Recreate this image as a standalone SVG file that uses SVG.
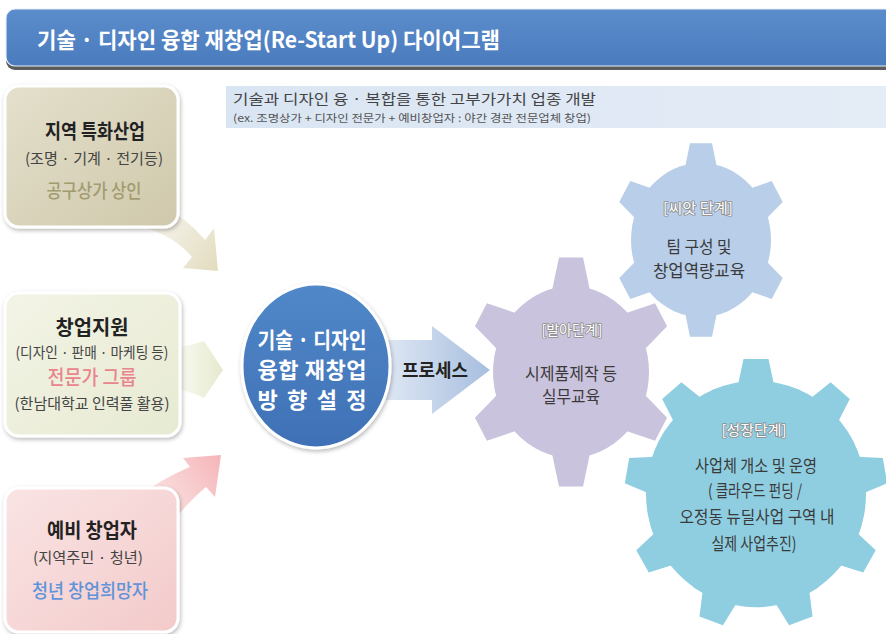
<svg xmlns="http://www.w3.org/2000/svg" xmlns:xlink="http://www.w3.org/1999/xlink" width="886" height="634" viewBox="0 0 886 634">
<style>
text{font-family:"Noto Sans CJK KR","Noto Sans",sans-serif;}
.c{text-anchor:middle;}
.hd{font-size:20px;font-weight:bold;fill:#222;}
.sub{font-size:15px;fill:#444;}
.gl{font-size:14px;fill:#fff;stroke:#8c8c8c;stroke-width:1.6px;paint-order:stroke;stroke-linejoin:round;}
.gt{font-size:17px;fill:#3a3a3a;}
.wt{font-size:22px;font-weight:bold;fill:#fff;}
</style>
<defs>
<linearGradient id="gTitle" x1="0" y1="0" x2="0" y2="1"><stop offset="0" stop-color="#5b8dcc"/><stop offset="1" stop-color="#4a7bbd"/></linearGradient>
<linearGradient id="gBan" x1="0" y1="0" x2="1" y2="0"><stop offset="0" stop-color="#dae5f3"/><stop offset="1" stop-color="#e4ecf6"/></linearGradient>
<linearGradient id="gB1" x1="0" y1="0" x2="1" y2="1"><stop offset="0" stop-color="#e4e0cc"/><stop offset="1" stop-color="#cfc8ab"/></linearGradient>
<linearGradient id="gB2" x1="0" y1="0" x2="1" y2="1"><stop offset="0" stop-color="#f3f4e6"/><stop offset="1" stop-color="#e7ead2"/></linearGradient>
<linearGradient id="gB3" x1="0" y1="0" x2="1" y2="1"><stop offset="0" stop-color="#fae4e4"/><stop offset="1" stop-color="#f3caca"/></linearGradient>
<linearGradient id="gA1" gradientUnits="userSpaceOnUse" x1="150" y1="220" x2="215" y2="268"><stop offset="0" stop-color="#f7f5ee"/><stop offset="1" stop-color="#e3ddc0"/></linearGradient>
<linearGradient id="gA2" gradientUnits="userSpaceOnUse" x1="180" y1="0" x2="222" y2="0"><stop offset="0" stop-color="#f8f9f0"/><stop offset="1" stop-color="#e7eacf"/></linearGradient>
<linearGradient id="gA3" gradientUnits="userSpaceOnUse" x1="150" y1="505" x2="220" y2="457"><stop offset="0" stop-color="#fbe6e6"/><stop offset="1" stop-color="#f5b6b9"/></linearGradient>
<linearGradient id="gP" gradientUnits="userSpaceOnUse" x1="384" y1="0" x2="490" y2="0"><stop offset="0" stop-color="#dfe8f4"/><stop offset="1" stop-color="#a7bedf"/></linearGradient>
<linearGradient id="gC" x1="0" y1="0" x2="0" y2="1"><stop offset="0" stop-color="#5088c9"/><stop offset="1" stop-color="#3f70b5"/></linearGradient>
<filter id="sh" x="-15%" y="-15%" width="135%" height="135%"><feDropShadow dx="1" dy="2" stdDeviation="2.2" flood-color="#000" flood-opacity="0.28"/></filter>
<polygon id="tS" points="-16,-66 16,-66 11,-88 -11,-88"/>
<polygon id="tP" points="-19,-74 19,-74 12,-104 -12,-104"/>
<polygon id="tG" points="-18,-106 18,-106 12.5,-131 -12.5,-131"/>
</defs>
<rect width="886" height="634" fill="#fff"/>

<g id="title">
<rect x="6" y="13" width="900" height="57" rx="9" fill="#5c5c5c"/>
<rect x="6" y="9" width="900" height="57" rx="9" fill="url(#gTitle)" stroke="#e8eef6" stroke-width="1.2"/>
<text x="37" y="48" class="wt" font-size="22" textLength="463" lengthAdjust="spacingAndGlyphs">기술 · 디자인 융합 재창업(Re-Start Up) 다이어그램</text>
</g>

<g id="banner">
<rect x="226" y="86" width="662" height="42" fill="url(#gBan)"/>
<text x="233" y="104" font-size="14" fill="#444" textLength="363" lengthAdjust="spacingAndGlyphs">기술과 디자인 융 · 복합을 통한 고부가가치 업종 개발</text>
<text x="233" y="122" font-size="10.5" fill="#555" textLength="358" lengthAdjust="spacingAndGlyphs">(ex. 조명상가 + 디자인  전문가 + 예비창업자 : 야간 경관 전문업체 창업)</text>
</g>

<g id="connectors">
<path d="M138,226 C165,232 182,245 192,257 L183,268 L218,271 L214,228 L205,240 C195,228 185,220 176,214 Z" fill="url(#gA1)"/>
<path d="M178,348 C190,345 198,343 204,341 L223,370 L204,398 C196,394 188,391 178,390 Z" fill="url(#gA2)"/>
<path d="M140,496 C160,480 178,472 190,467 L183,458 L221,455 L215,497 L206,487 C194,497 182,510 172,522 Z" fill="url(#gA3)"/>
<g id="process-arrow">
<path d="M384,340 L432,340 L432,326 L490,370 L432,414 L432,400 L384,400 Z" fill="url(#gP)"/>
<text x="435" y="377" class="c" font-size="18" font-weight="bold" fill="#222" textLength="66" lengthAdjust="spacingAndGlyphs">프로세스</text>
</g>
</g>

<g id="box-regional">
<rect x="5" y="86" width="173" height="141" rx="14" fill="url(#gB1)" stroke="#fff" stroke-width="3" filter="url(#sh)"/>
<text x="95" y="139" class="c hd" textLength="100" lengthAdjust="spacingAndGlyphs">지역 특화산업</text>
<text x="94" y="164" class="c sub" textLength="138" lengthAdjust="spacingAndGlyphs">(조명 · 기계 · 전기등)</text>
<text x="94" y="198" class="c" font-size="19" font-weight="500" fill="#a29b70" textLength="95" lengthAdjust="spacingAndGlyphs">공구상가 상인</text>
</g>

<g id="box-support">
<rect x="5" y="293" width="175" height="143" rx="14" fill="url(#gB2)" stroke="#fff" stroke-width="3" filter="url(#sh)"/>
<text x="92" y="335" class="c hd" textLength="73" lengthAdjust="spacingAndGlyphs">창업지원</text>
<text x="92" y="358" class="c sub" textLength="153" lengthAdjust="spacingAndGlyphs">(디자인 · 판매 · 마케팅 등)</text>
<text x="92" y="385" class="c" font-size="20" font-weight="500" fill="#e9858c" textLength="89" lengthAdjust="spacingAndGlyphs">전문가 그룹</text>
<text x="92" y="409" class="c sub" textLength="155" lengthAdjust="spacingAndGlyphs">(한남대학교 인력풀 활용)</text>
</g>

<g id="box-prestartup">
<rect x="5" y="488" width="173" height="144" rx="14" fill="url(#gB3)" stroke="#fff" stroke-width="3" filter="url(#sh)"/>
<text x="92" y="538" class="c hd" textLength="90" lengthAdjust="spacingAndGlyphs">예비 창업자</text>
<text x="88" y="563" class="c sub" textLength="110" lengthAdjust="spacingAndGlyphs">(지역주민 · 청년)</text>
<text x="90" y="598" class="c" font-size="19" font-weight="500" fill="#5f93da" textLength="116" lengthAdjust="spacingAndGlyphs">청년 창업희망자</text>
</g>

<g id="center">
<ellipse cx="316" cy="366" rx="74" ry="82" fill="url(#gC)" stroke="#fff" stroke-width="3" filter="url(#sh)"/>
<text x="312" y="348" class="c wt" textLength="109" lengthAdjust="spacingAndGlyphs">기술 · 디자인</text>
<text x="312" y="378" class="c wt" textLength="109" lengthAdjust="spacing">융합 재창업</text>
<text x="312" y="408" class="c wt" textLength="109" lengthAdjust="spacing">방 향 설 정</text>
</g>

<g id="gear-seed">
<g transform="translate(701,240) scale(1,1.1)" fill="#b8cee9">
<circle r="70"/>
<use xlink:href="#tS"/><use xlink:href="#tS" transform="rotate(60)"/><use xlink:href="#tS" transform="rotate(120)"/><use xlink:href="#tS" transform="rotate(180)"/><use xlink:href="#tS" transform="rotate(240)"/><use xlink:href="#tS" transform="rotate(300)"/>
</g>
<text x="698" y="213" class="c gl" textLength="70" lengthAdjust="spacingAndGlyphs">[씨앗 단계]</text>
<text x="699" y="253" class="c gt" textLength="65" lengthAdjust="spacingAndGlyphs">팀 구성 및</text>
<text x="699" y="277" class="c gt" textLength="92" lengthAdjust="spacingAndGlyphs">창업역량교육</text>
</g>

<g id="gear-sprout">
<g transform="translate(571,372) scale(1,1.1)" fill="#cac3de">
<circle r="78"/>
<use xlink:href="#tP"/><use xlink:href="#tP" transform="rotate(60)"/><use xlink:href="#tP" transform="rotate(120)"/><use xlink:href="#tP" transform="rotate(180)"/><use xlink:href="#tP" transform="rotate(240)"/><use xlink:href="#tP" transform="rotate(300)"/>
</g>
<text x="572" y="335" class="c gl" textLength="61" lengthAdjust="spacingAndGlyphs">[발아단계]</text>
<text x="571" y="380" class="c gt" textLength="92" lengthAdjust="spacingAndGlyphs">시제품제작 등</text>
<text x="571" y="403" class="c gt" textLength="58" lengthAdjust="spacingAndGlyphs">실무교육</text>
</g>

<g id="gear-growth">
<g transform="translate(756,494) scale(1,1.03)" fill="#8fcee1">
<circle r="110"/>
<use xlink:href="#tG"/><use xlink:href="#tG" transform="rotate(40)"/><use xlink:href="#tG" transform="rotate(80)"/><use xlink:href="#tG" transform="rotate(120)"/><use xlink:href="#tG" transform="rotate(160)"/><use xlink:href="#tG" transform="rotate(200)"/><use xlink:href="#tG" transform="rotate(240)"/><use xlink:href="#tG" transform="rotate(280)"/><use xlink:href="#tG" transform="rotate(320)"/>
</g>
<text x="754" y="435" class="c gl" textLength="65" lengthAdjust="spacingAndGlyphs">[성장단계]</text>
<text x="756" y="472" class="c gt" textLength="122" lengthAdjust="spacingAndGlyphs">사업체 개소 및 운영</text>
<text x="755" y="497" class="c gt" textLength="94" lengthAdjust="spacingAndGlyphs">( 클라우드 펀딩 /</text>
<text x="757" y="523" class="c gt" textLength="155" lengthAdjust="spacingAndGlyphs">오정동 뉴딜사업 구역 내</text>
<text x="754" y="550" class="c gt" textLength="85" lengthAdjust="spacingAndGlyphs">실제 사업추진)</text>
</g>
</svg>
